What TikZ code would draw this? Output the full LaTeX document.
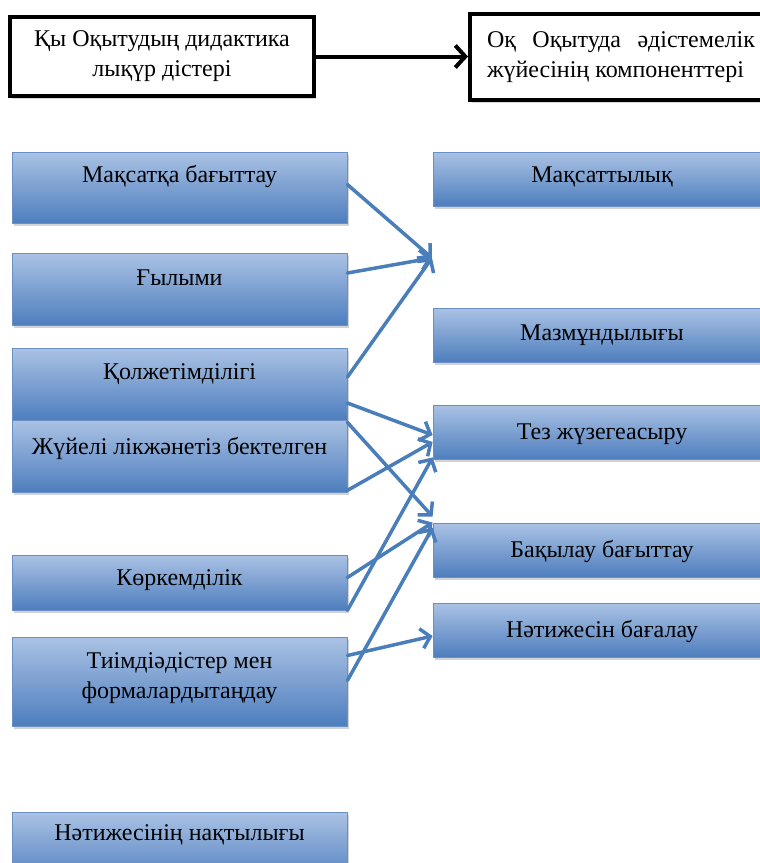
\documentclass[tikz,border=0pt]{standalone}
\usepackage{fontspec}
\setmainfont{Liberation Serif}
\usetikzlibrary{arrows.meta,shadows}
\definecolor{boxtop}{RGB}{170,194,228}
\definecolor{boxbot}{RGB}{78,126,190}
\definecolor{boxline}{RGB}{105,143,196}
\definecolor{arrblue}{RGB}{74,126,187}

\begin{document}
\begin{tikzpicture}[x=1pt,y=-1pt,
  font=\fontsize{24}{30}\selectfont,
  bluebox/.style={rectangle,draw=boxline,line width=0.8pt,top color=boxtop,bottom color=boxbot,inner sep=0pt,
    drop shadow={shadow xshift=1.5pt,shadow yshift=-2.5pt,opacity=0.35}},
  pbox/.style={bluebox,minimum width=335pt},
  kbox/.style={bluebox,minimum width=338pt,minimum height=54pt},
  tx/.style={text height=20pt,text depth=#1},
  headbox/.style={rectangle,draw=black,line width=4pt,fill=white,
    drop shadow={shadow xshift=2pt,shadow yshift=-3pt,opacity=0.3}},
  link/.style={draw=arrblue,line width=3.5pt,line cap=round,-{Straight Barb[length=9pt,width=20pt]}}]
\useasboundingbox (0,0) rectangle (760,863);
\clip (0,0) rectangle (760,863);
\node (t1) [headbox,minimum width=304pt,minimum height=79pt,align=center] at (162,56.5) {Қы Оқытудың дидактика\\лықүр дістері};
\node (t2) [headbox,anchor=west,minimum height=86pt,text width=268pt,inner xsep=17pt,align=justify] at (468,57) {Оқ Оқытуда әдістемелік\linebreak жүйесінің компоненттері};
\draw [line width=4pt,-{Straight Barb[length=10pt,width=22pt]}] (t1.east) to (t1.east -| t2.west);
% principles
\node (p1) [pbox,tx=31pt,minimum height=71pt] at (179.5,187.5) {Мақсатқа бағыттау};
\node (p2) [pbox,tx=28pt,minimum height=72pt] at (179.5,289) {Ғылыми};
\node (p3) [pbox,tx=30pt,minimum height=72pt] at (179.5,384) {Қолжетімділігі};
\node (p4) [pbox,tx=24pt,minimum height=72pt] at (179.5,456) {Жүйелі лікжәнетіз бектелген};
\node (p5) [pbox,tx=15pt,minimum height=55pt] at (179.5,582.5) {Көркемділік};
\node (p6) [pbox,text height=50pt,text depth=17pt,minimum height=89pt,align=center] at (179.5,681.5) {Тиімдіәдістер мен\\формалардытаңдау};
\node (p7) [pbox,tx=36pt,minimum height=72pt] at (179.5,848) {Нәтижесінің нақтылығы};
% components
\node (k1) [kbox,tx=14pt] at (602,179) {Мақсаттылық};
\node (k2) [kbox,tx=10pt] at (602,335) {Мазмұндылығы};
\node (k3) [kbox,tx=6pt] at (602,432) {Тез жүзегеасыру};
\node (k4) [kbox,tx=6pt] at (602,550) {Бақылау бағыттау};
\node (k5) [kbox,tx=6pt] at (602,630) {Нәтижесін бағалау};
\coordinate (c1) at (432,258);
\draw [link] ([yshift=3pt]p1.east) to (c1);
\draw [link] ([yshift=16pt]p2.east) to (c1);
\draw [link] ([yshift=7pt]p3.east) to (c1);
\draw [link] ([yshift=-19pt]p3.east) to ([yshift=-3pt]k3.west);
\draw [link] ([yshift=-2pt]p3.south east) to ([yshift=6pt]k4.north west);
\draw [link] ([yshift=2pt]p4.south east) to ([yshift=-10pt]k3.west);
\draw [link] ([yshift=5pt]p5.east) to (k4.north west);
\draw [link] (p5.south east) to ([yshift=2pt]k3.south west);
\draw [link] ([yshift=26pt]p6.east) to ([yshift=-6pt]k5.west);
\draw [link] ([yshift=1pt]p6.east) to ([yshift=-5pt]k4.north west);
\end{tikzpicture}
\end{document}
